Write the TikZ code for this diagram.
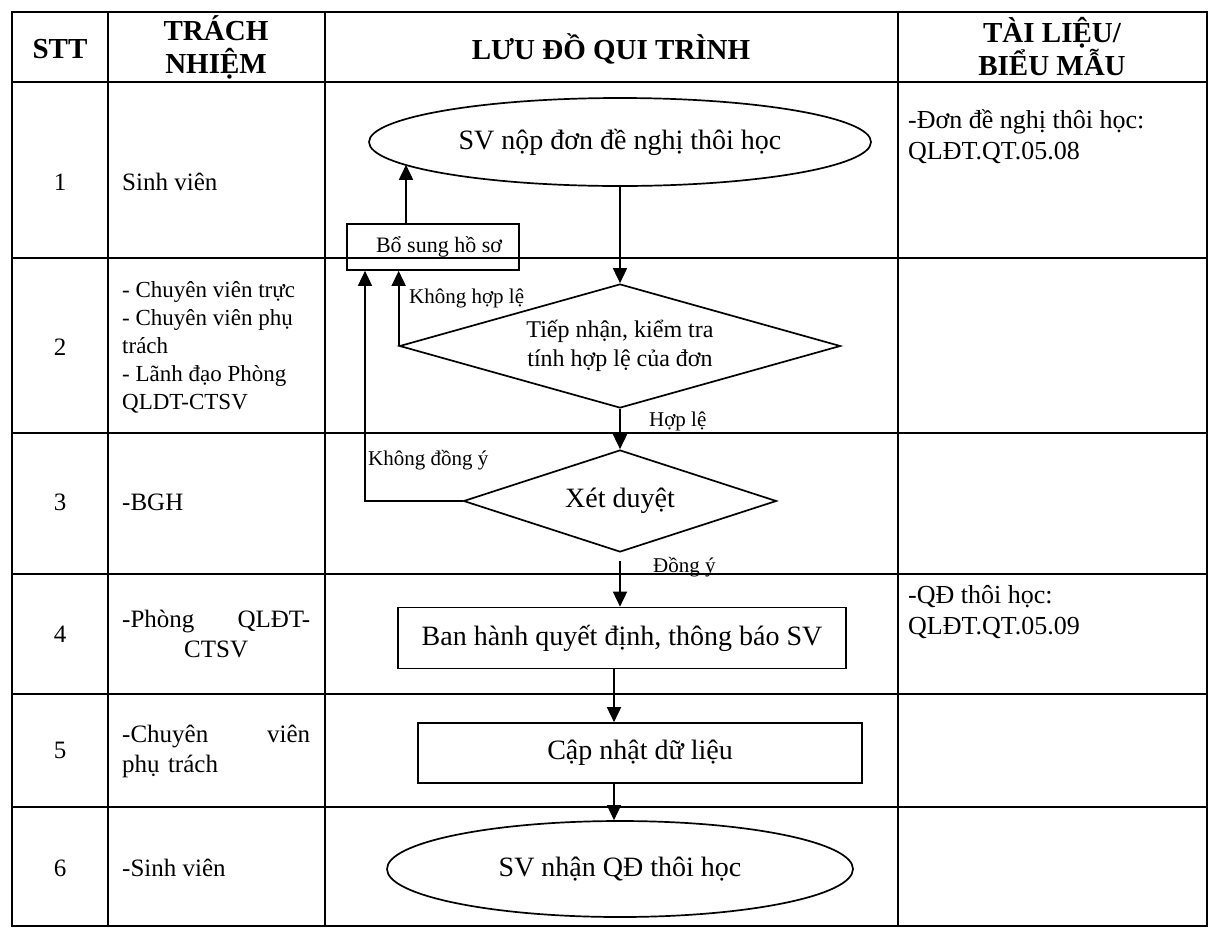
\documentclass[tikz,border=0pt]{standalone}
\usepackage{fontspec}
\setmainfont{Liberation Serif}
\usetikzlibrary{positioning,shapes.geometric,arrows.meta}

\tikzset{
  tabline/.style={line width=1.8pt},
  head/.style={align=center, inner sep=0pt, font=\bfseries\fontsize{29}{33}\selectfont},
  cell/.style={inner sep=0pt, font=\fontsize{25}{30}\selectfont},
  cellsm/.style={inner sep=0pt, align=left, font=\fontsize{23}{28}\selectfont},
  box/.style={draw, line width=1.7pt, rectangle, inner sep=2pt, font=\fontsize{28}{33}\selectfont},
  oval/.style={draw, line width=1.7pt, ellipse, inner sep=0pt, font=\fontsize{28}{33}\selectfont},
  dia/.style={draw, line width=1.7pt, diamond, aspect=3.5, inner sep=0pt, align=center, font=\fontsize{28}{33}\selectfont},
  lbl/.style={inner sep=0pt, font=\fontsize{21}{25}\selectfont},
  arr/.style={-{Triangle[length=15pt,width=14pt]}, line width=1.7pt}
}

\begin{document}
\begin{tikzpicture}[x=1pt,y=-1pt]
\useasboundingbox (0,0) rectangle (1217,930);

\draw[tabline] (12,12) rectangle (1207,926);
\foreach \x in {108,325,898} \draw[tabline] (\x,12) -- (\x,926);
\foreach \y in {82,258,433,574,694,807} \draw[tabline] (12,\y) -- (1207,\y);

\node[head] (H1) at (60,49) {STT};
\node[head] (H2) at (216,47) {TRÁCH\\NHIỆM};
\node[head] (H3) at (611,49) {LƯU ĐỒ QUI TRÌNH};
\node[head] (H4) at (1052,47) {TÀI LIỆU/\\BIỂU MẪU};

\foreach \n/\y in {1/182,2/347,3/502,4/634,5/750,6/868}
  \node[cell] (N\n) at (60,\y) {\n};

\node[cell, anchor=west] (R1) at (122,182) {Sinh viên};
\node[cellsm, anchor=west] (R2) at (122,347) {- Chuyên viên trực\\- Chuyên viên phụ\\trách\\- Lãnh đạo Phòng\\QLDT-CTSV};
\node[cell, anchor=west] (R3) at (122,502) {-BGH};
\node[cell, anchor=west, text width=188pt, align=center] (R4) at (122,634) {-Phòng\hfill QLĐT-\\CTSV};
\node[cell, anchor=west, text width=188pt, align=left] (R5) at (122,751) {-Chuyên\hfill viên\\phụ trách};
\node[cell, anchor=west] (R6) at (122,868) {-Sinh viên};

\node[cell, anchor=west, align=left, font=\fontsize{26}{31}\selectfont] (T1) at (908,137) {-Đơn đề nghị thôi học:\\QLĐT.QT.05.08};
\node[cell, anchor=west, align=left, font=\fontsize{26}{31}\selectfont] (T4) at (908,612) {-QĐ thôi học:\\QLĐT.QT.05.09};

\node[oval, minimum width=502pt, minimum height=88pt] (S1) at (620,142) {SV nộp đơn đề nghị thôi học};
\node[box, minimum width=172pt, minimum height=46pt, font=\fontsize{22}{26}\selectfont] (B0) at (433,247) {\hspace*{12pt}Bổ sung hồ sơ};
\node[dia, minimum width=441pt, minimum height=124pt, font=\fontsize{24}{29}\selectfont] (D1) at (620,346) {Tiếp nhận, kiểm tra\\tính hợp lệ của đơn};
\node[dia, minimum width=313pt, minimum height=102pt] (D2) at (620,501) {Xét duyệt};
\node[box, minimum width=448pt, minimum height=61pt] (B1) at (622,638) {Ban hành quyết định, thông báo SV};
\node[box, minimum width=444pt, minimum height=60pt] (B2) at (640,753) {Cập nhật dữ liệu};
\node[oval, minimum width=466pt, minimum height=96pt] (S2) at (620,869) {SV nhận QĐ thôi học};

\coordinate (L0) at (365,0);
\coordinate (L1) at (406,0);
\coordinate (L2) at (614,0);

\draw[arr] (B0.north -| L1) -- (S1.186.5 -| L1);
\draw[arr] (S1.south) -- (D1.north);
\draw[arr] (D1.west) -- (D1.west |- B0.south);
\node[lbl, anchor=west] (K1) at (409,298) {Không hợp lệ};
\draw[arr] (D1.south) -- (D2.north);
\node[lbl, anchor=west] (Y1) at (649,421) {Hợp lệ};
\draw[arr] (D2.west) -| (B0.south -| L0);
\node[lbl, anchor=west] (K2) at (368,460) {Không đồng ý};
\draw[arr, shorten <=8pt] (D2.south) -- (B1.north -| D2.south);
\node[lbl, anchor=west] (Y2) at (653,567) {Đồng ý};
\draw[arr] (B1.south -| L2) -- (B2.north -| L2);
\draw[arr] (B2.south -| L2) -- (S2.north -| L2);

\end{tikzpicture}
\end{document}
